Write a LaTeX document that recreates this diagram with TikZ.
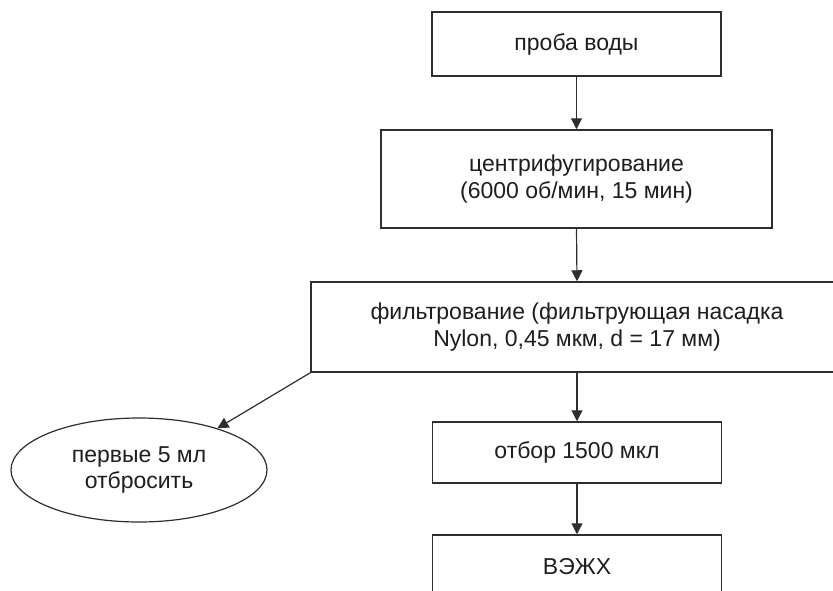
\documentclass[tikz,border=0pt]{standalone}
\usepackage{fontspec}
\setmainfont{Liberation Sans}
\usetikzlibrary{arrows.meta,shapes.geometric}
\definecolor{ink}{HTML}{1E1E1E}
\definecolor{linec}{HTML}{2E2E2E}
\begin{document}
\begin{tikzpicture}[x=1pt,y=-1pt,
  every node/.style={font=\fontsize{23}{26.5}\selectfont, text=ink, align=center, inner sep=0pt},
  stepbox/.style={draw=linec, line width=1.5pt, rectangle},
  oval/.style={draw=linec, line width=1.2pt, ellipse},
  flow/.style={draw=linec, line width=1.2pt, -{Triangle[length=11pt,width=11pt]}}]
\useasboundingbox (0,0) rectangle (833,590);
\clip (0,0) rectangle (833,590);
\fill[white] (0,0) rectangle (833,590);
\node[stepbox, minimum width=289pt, minimum height=64pt] (b1) at (576.5,44) {проба воды};
\node[stepbox, minimum width=391pt, minimum height=98pt] (b2) at (576.5,179) {центрифугирование\\(6000 об/мин, 15 мин)};
\node[stepbox, minimum width=532pt, minimum height=90pt] (b3) at (577,327) {фильтрование (фильтрующая насадка\\Nylon, 0,45 мкм, d = 17 мм)};
\node[stepbox, minimum width=289pt, minimum height=61pt] (b4) at (577,452.5) {отбор 1500 мкл};
\node[stepbox, minimum width=289pt, minimum height=64pt] (b5) at (577,567) {ВЭЖХ};
\node[oval, minimum width=256pt, minimum height=104pt] (ell) at (139,470) {первые 5 мл\\отбросить};
\draw[flow] (b1.south) -- (b2.north);
\draw[flow] (b2.south) -- (b3.north);
\draw[flow] (b3.south) -- (b4.north);
\draw[flow] (b4.south) -- (b5.north);
\draw[flow] (b3.south west) -- (ell.28);
\end{tikzpicture}
\end{document}
